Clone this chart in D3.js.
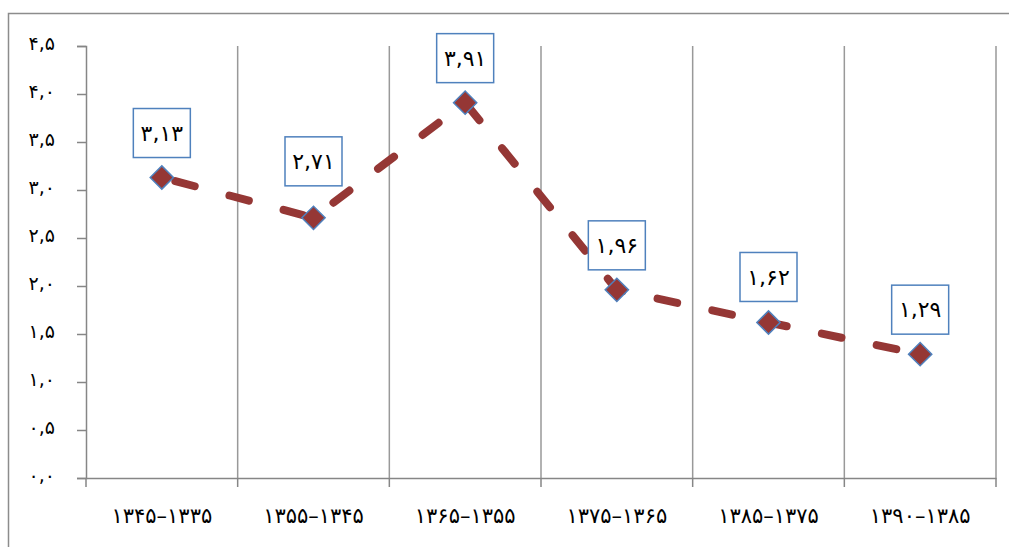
<!DOCTYPE html>
<html>
<head>
<meta charset="utf-8">
<script src="https://cdn.jsdelivr.net/npm/d3@7"></script>
<style>
  body { margin: 0; background: #fff; }
  svg { display: block; }
  text { font-family: "DejaVu Sans", sans-serif; fill: #000; }
</style>
</head>
<body>
<div id="chart"></div>
<script>
// periods (solar hijri) and their average values
let periods = ["۱۳۴۵–۱۳۳۵", "۱۳۵۵–۱۳۴۵", "۱۳۶۵–۱۳۵۵", "۱۳۷۵–۱۳۶۵", "۱۳۸۵–۱۳۷۵", "۱۳۹۰–۱۳۸۵"];
let values = [3.13, 2.71, 3.91, 1.96, 1.62, 1.29];
let yTicks = [0, 0.5, 1, 1.5, 2, 2.5, 3, 3.5, 4, 4.5];

let width = 1009;
let height = 547;
let margin = {top: 46, right: 13, bottom: 69, left: 86};

let faDigits = "۰۱۲۳۴۵۶۷۸۹";
function toFa(str) {
    return String(str).replace(/[0-9]/g, d => faDigits[+d]).replace(".", ",");
}

let svg = d3.select("#chart")
    .append("svg")
    .attr("width", width)
    .attr("height", height);

// outer chart frame (cut off at right and bottom like the original)
svg.append("rect")
    .attr("x", 8.5)
    .attr("y", 13.5)
    .attr("width", 1006)
    .attr("height", 560)
    .attr("fill", "none")
    .attr("stroke", "#8c8c8c")
    .attr("stroke-width", 1.5);

let x = d3.scaleBand()
    .domain(periods)
    .range([margin.left, width - margin.right])
    .padding(0);

let y = d3.scaleLinear()
    .domain([0, 4.5])
    .range([height - margin.bottom, margin.top]);

// vertical grid lines at category boundaries
svg.append("g")
    .selectAll("line")
    .data(periods)
    .enter().append("line")
    .attr("x1", d => x(d) + x.bandwidth())
    .attr("x2", d => x(d) + x.bandwidth())
    .attr("y1", y(4.5))
    .attr("y2", y(0))
    .attr("stroke", "#999999")
    .attr("stroke-width", 1.5);

// y axis
let yAxis = svg.append("g")
    .attr("transform", "translate(" + margin.left + ",0)")
    .call(d3.axisLeft(y).tickValues(yTicks).tickSize(9).tickPadding(22)
        .tickFormat(d => toFa(d.toFixed(1))));
yAxis.select(".domain").attr("stroke", "#868686").attr("stroke-width", 1.5);
yAxis.selectAll(".tick line").attr("stroke", "#868686").attr("stroke-width", 1.5);
yAxis.selectAll("text").style("font-size", "19px").attr("dy", "0.2em");

// x axis
let xAxis = svg.append("g")
    .attr("transform", "translate(0," + y(0) + ")")
    .call(d3.axisBottom(x).tickSize(0).tickPadding(30));
xAxis.select(".domain").attr("stroke", "#868686").attr("stroke-width", 1.5);
xAxis.selectAll("text").style("font-size", "21px");
// tick marks at category boundaries
svg.append("g")
    .selectAll("line")
    .data([periods[0]].concat(periods))
    .enter().append("line")
    .attr("x1", (d, i) => i == 0 ? x(d) : x(d) + x.bandwidth())
    .attr("x2", (d, i) => i == 0 ? x(d) : x(d) + x.bandwidth())
    .attr("y1", y(0))
    .attr("y2", y(0) + 9)
    .attr("stroke", "#868686")
    .attr("stroke-width", 1.5);

// dashed line
let line = d3.line()
    .x((d, i) => x(periods[i]) + x.bandwidth() / 2)
    .y(d => y(d));

svg.append("path")
    .datum(values)
    .attr("d", line)
    .attr("fill", "none")
    .attr("stroke", "#953735")
    .attr("stroke-width", 8)
    .attr("stroke-linecap", "round")
    .attr("stroke-dasharray", "20 36")
    .attr("stroke-dashoffset", -14);

// diamond markers
svg.append("g")
    .selectAll("path")
    .data(values)
    .enter().append("path")
    .attr("d", d3.symbol().type(d3.symbolSquare).size(270))
    .attr("transform", (d, i) => "translate(" + (x(periods[i]) + x.bandwidth() / 2) + "," + y(d) + ") rotate(45)")
    .attr("fill", "#953735")
    .attr("stroke", "#4f81bd")
    .attr("stroke-width", 1.5);

// data labels in boxes
let boxW = 57, boxH = 49;
let labelGap = [20, 32, 20, 20, 21, 20];
let labels = svg.append("g")
    .selectAll("g")
    .data(values)
    .enter().append("g")
    .attr("transform", (d, i) => "translate(" + (x(periods[i]) + x.bandwidth() / 2) + "," + (y(d) - labelGap[i] - boxH / 2) + ")");
labels.append("rect")
    .attr("x", -boxW / 2)
    .attr("y", -boxH / 2)
    .attr("width", boxW)
    .attr("height", boxH)
    .attr("fill", "#fff")
    .attr("stroke", "#4f81bd")
    .attr("stroke-width", 1.5);
labels.append("text")
    .attr("text-anchor", "middle")
    .attr("dy", "0.35em")
    .style("font-size", "22px")
    .text(d => toFa(d.toFixed(2)));
</script>
</body>
</html>
